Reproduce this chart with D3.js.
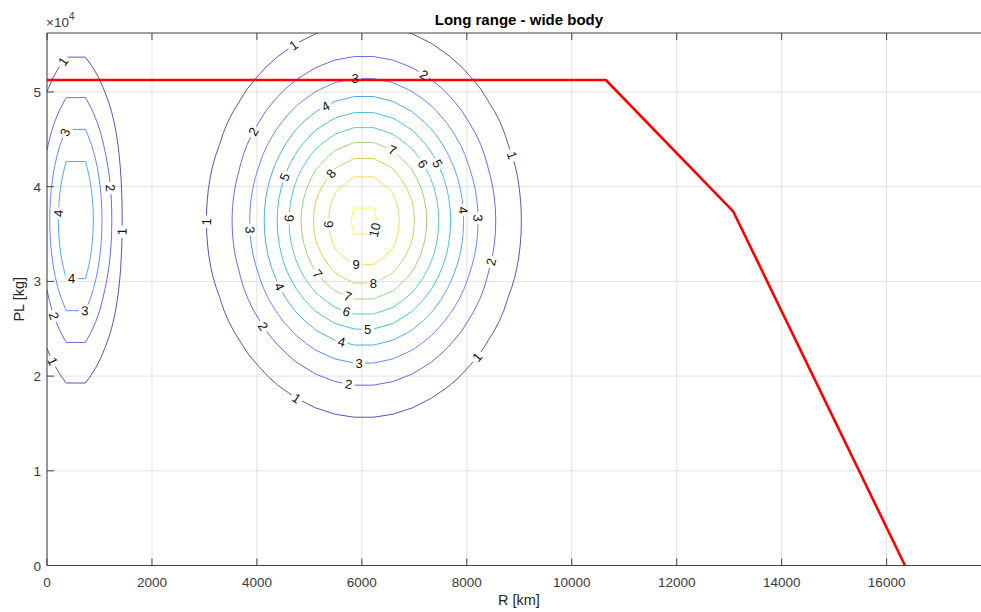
<!DOCTYPE html>
<html lang="en">
<head>
<meta charset="UTF-8">
<title>Long range - wide body</title>
<script src="https://d3js.org/d3.v7.min.js"></script>
<style>
  html, body { margin: 0; padding: 0; background: #fff; }
  text { font-family: "Liberation Sans", Arial, Helvetica, sans-serif; }
</style>
</head>
<body>
<script>
const width = 981, height = 612;
const plotLeft = 47, plotRight = 990.8, plotTop = 33, plotBottom = 565.5;
const xMax = 17985, yMax = 56230;

// payload-range envelope (red)
const rangeR = [0, 10650, 13080, 16350];
const rangePL = [51270, 51270, 37360, 0];

// the contoured field: two peaks
const peakR = [6039, 549];
const peakPL = [36400, 36480];
const peakHeight = [10.2, 5.3];
const spreadR = [1384, 470];
const spreadPL = [9630, 9630];
const gridStepR = 366, gridStepPL = 1170;

const levels = [1, 2, 3, 4, 5, 6, 7, 8, 9, 10];

const xTicks = [0, 2000, 4000, 6000, 8000, 10000, 12000, 14000, 16000];
const yTicks = [0, 10000, 20000, 30000, 40000, 50000];
const yTickLabels = ["0", "1", "2", "3", "4", "5"];

// inline contour labels (level, approx R, approx PL)
const labelLevel = [1, 3, 2, 1, 4, 4, 3, 2, 1,
  1, 2, 3, 4, 2, 1, 7, 6, 5, 5, 8, 4, 3, 1, 3, 6, 9, 10,
  2, 9, 8, 7, 4, 7, 6, 5, 4, 2, 3, 1, 2, 1];
const labelR = [311, 375, 1149, 1404, 196, 470, 724, 89, 89,
  4694, 7160, 5870, 5311, 3932, 8791, 6569, 7076, 7362, 4517, 5406, 7838, 8112, 2967, 3806, 4580, 5279, 6251,
  8442, 5889, 6218, 5107, 4358, 5711, 5692, 6111, 5603, 4059, 5946, 8176, 5742, 4726];
const labelPL = [53200, 45670, 39830, 35250, 37190, 29860, 26900, 26270, 21520,
  54960, 51620, 51270, 48450, 45810, 43170, 43700, 42110, 42220, 41060, 41420, 37470, 36670, 36310, 35430, 36670, 35960, 35430,
  32080, 31550, 29800, 30570, 29270, 28110, 26560, 24800, 23390, 25050, 21280, 22120, 18990, 17400];

// parula stops (style)
const parula = ["#3e26a8", "#4743e7", "#4367fd", "#2d8cf3", "#1baade", "#12beb9",
  "#47cb86", "#9fc942", "#eaba30", "#fad42e", "#f9fb15"];

const x = d3.scaleLinear().domain([0, xMax]).range([plotLeft, plotRight]);
const y = d3.scaleLinear().domain([0, yMax]).range([plotBottom, plotTop]);

const svg = d3.select("body").append("svg")
  .attr("width", width).attr("height", height);

const defs = svg.append("defs");
defs.append("clipPath").attr("id", "plotClip").append("rect")
  .attr("x", plotLeft).attr("y", plotTop)
  .attr("width", plotRight - plotLeft).attr("height", plotBottom - plotTop);
const mask = defs.append("mask").attr("id", "labelGaps")
  .attr("maskUnits", "userSpaceOnUse")
  .attr("x", 0).attr("y", 0).attr("width", width).attr("height", height);
mask.append("rect").attr("width", width).attr("height", height).attr("fill", "white");

// grid
const grid = svg.append("g").attr("stroke", "#e2e2e2").attr("stroke-width", 1);
xTicks.forEach(t => grid.append("line")
  .attr("x1", x(t)).attr("x2", x(t)).attr("y1", plotTop).attr("y2", plotBottom));
yTicks.forEach(t => grid.append("line")
  .attr("x1", plotLeft).attr("x2", plotRight).attr("y1", y(t)).attr("y2", y(t)));

// sample the field
const nx = Math.ceil(xMax / gridStepR) + 1;
const ny = Math.ceil(yMax / gridStepPL) + 1;
const values = new Array(nx * ny);
for (let j = 0; j < ny; j++) {
  for (let i = 0; i < nx; i++) {
    const r = i * gridStepR, p = j * gridStepPL;
    let v = 0;
    for (let k = 0; k < peakR.length; k++) {
      const dx = (r - peakR[k]) / spreadR[k], dy = (p - peakPL[k]) / spreadPL[k];
      v += peakHeight[k] * Math.exp(-(dx * dx + dy * dy) / 2);
    }
    values[i + j * nx] = v;
  }
}
// line colours run over the level list
const lvExt = d3.extent(levels);
const color = d3.scaleLinear()
  .domain(parula.map((c, i) => lvExt[0] + (lvExt[1] - lvExt[0]) * i / (parula.length - 1)))
  .range(parula);

const contours = d3.contours().size([nx, ny]).thresholds(levels)(values);

const toPx = p => [x((p[0] - 0.5) * gridStepR), y((p[1] - 0.5) * gridStepPL)];
const ringsByLevel = {};
contours.forEach(c => {
  ringsByLevel[c.value] = [];
  c.coordinates.forEach(poly => poly.forEach(ring => ringsByLevel[c.value].push(ring.map(toPx))));
});

const cg = svg.append("g").attr("clip-path", "url(#plotClip)")
  .append("g").attr("mask", "url(#labelGaps)");
contours.forEach(c => {
  const d = ringsByLevel[c.value].map(r => "M" + r.map(p => p[0].toFixed(2) + "," + p[1].toFixed(2)).join("L")).join("");
  cg.append("path").attr("d", d)
    .attr("fill", "none").attr("stroke", color(c.value)).attr("stroke-width", 0.9)
    .attr("stroke-opacity", 0.9);
});

// payload-range line
svg.append("path")
  .datum(rangeR.map((r, i) => [r, rangePL[i]]))
  .attr("clip-path", "url(#plotClip)")
  .attr("fill", "none").attr("stroke", "#ff0000").attr("stroke-width", 2.6)
  .attr("stroke-linejoin", "round")
  .attr("d", d3.line().x(d => x(d[0])).y(d => y(d[1])));

// axes box and ticks
const ax = svg.append("g").attr("stroke", "#404040").attr("stroke-width", 1).attr("fill", "none");
ax.append("line").attr("x1", plotLeft).attr("x2", plotRight).attr("y1", plotBottom).attr("y2", plotBottom);
ax.append("line").attr("x1", plotLeft).attr("x2", plotRight).attr("y1", plotTop).attr("y2", plotTop);
ax.append("line").attr("x1", plotLeft).attr("x2", plotLeft).attr("y1", plotTop).attr("y2", plotBottom);
const tl = 7;
xTicks.forEach(t => {
  ax.append("line").attr("x1", x(t)).attr("x2", x(t)).attr("y1", plotBottom).attr("y2", plotBottom - tl);
  ax.append("line").attr("x1", x(t)).attr("x2", x(t)).attr("y1", plotTop).attr("y2", plotTop + tl);
});
yTicks.forEach(t => {
  ax.append("line").attr("x1", plotLeft).attr("x2", plotLeft + tl).attr("y1", y(t)).attr("y2", y(t));
});

const tickColor = "#3a3a3a";
svg.append("g").selectAll("text").data(xTicks).join("text")
  .attr("x", d => x(d)).attr("y", plotBottom + 21)
  .attr("text-anchor", "middle").attr("font-size", 13.5).attr("fill", tickColor)
  .text(d => d);
svg.append("g").selectAll("text").data(yTicks).join("text")
  .attr("x", plotLeft - 6).attr("y", d => y(d) + 5)
  .attr("text-anchor", "end").attr("font-size", 13.5).attr("fill", tickColor)
  .text((d, i) => yTickLabels[i]);

const ex = svg.append("text").attr("x", plotLeft - 1).attr("y", 27)
  .attr("font-size", 13.5).attr("fill", tickColor);
ex.append("tspan").text("\u00d710");
ex.append("tspan").attr("dy", -7).attr("font-size", 10).text("4");

svg.append("text").attr("x", (plotLeft + plotRight) / 2).attr("y", 25)
  .attr("text-anchor", "middle").attr("font-size", 15).attr("font-weight", "bold")
  .attr("fill", "#000").text("Long range - wide body");
svg.append("text").attr("x", (plotLeft + plotRight) / 2).attr("y", 605)
  .attr("text-anchor", "middle").attr("font-size", 14.5).attr("fill", "#262626")
  .text("R [km]");
svg.append("text").attr("transform", `translate(24,${(plotTop + plotBottom) / 2}) rotate(-90)`)
  .attr("text-anchor", "middle").attr("font-size", 14.5).attr("fill", "#262626")
  .text("PL [kg]");

// contour labels snapped onto their line
function snap(level, px, py) {
  let best = null;
  (ringsByLevel[level] || []).forEach(ring => {
    for (let i = 0; i < ring.length - 1; i++) {
      const a = ring[i], b = ring[i + 1];
      const vx = b[0] - a[0], vy = b[1] - a[1];
      const len2 = vx * vx + vy * vy;
      if (len2 === 0) continue;
      let t = ((px - a[0]) * vx + (py - a[1]) * vy) / len2;
      t = Math.max(0, Math.min(1, t));
      const qx = a[0] + t * vx, qy = a[1] + t * vy;
      if (qx < plotLeft || qx > plotRight || qy < plotTop || qy > plotBottom) continue;
      const dist = (qx - px) ** 2 + (qy - py) ** 2;
      if (!best || dist < best.dist) best = { x: qx, y: qy, ang: Math.atan2(vy, vx) * 180 / Math.PI, dist };
    }
  });
  return best;
}

const lg = svg.append("g");
labelLevel.forEach((lv, i) => {
  const s = snap(lv, x(labelR[i]), y(labelPL[i]));
  if (!s) return;
  let a = s.ang;
  if (a > 90) a -= 180;
  if (a <= -90) a += 180;
  const t = lg.append("text")
    .attr("transform", `translate(${s.x},${s.y}) rotate(${a})`)
    .attr("text-anchor", "middle").attr("dy", "0.35em")
    .attr("font-size", 13).attr("fill", "#111").text(lv);
  const w = t.node().getComputedTextLength();
  mask.append("rect")
    .attr("x", -w / 2 - 2.5).attr("y", -6).attr("width", w + 5).attr("height", 12)
    .attr("transform", `translate(${s.x},${s.y}) rotate(${a})`)
    .attr("fill", "black");
});
</script>
</body>
</html>
